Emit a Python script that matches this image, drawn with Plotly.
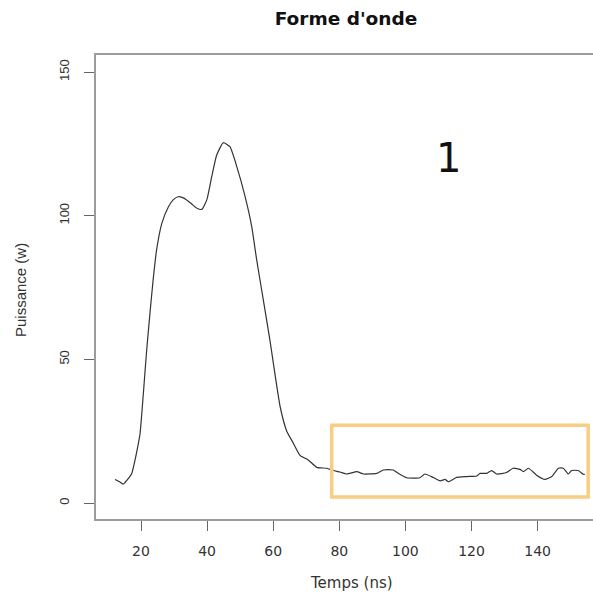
import plotly.graph_objects as go

# Waveform samples: time (ns) and power (W)
temps_ns = [12.1, 13.5, 14.6, 16.2, 17.2, 18.2, 19.0, 19.7, 20.7, 21.7, 22.7, 23.7,
            24.7, 26.3, 28.3, 29.8, 31.3, 32.6, 33.8, 35.4, 36.9, 38.4, 39.9, 41.4,
            42.9, 44.9, 46.9, 49.0, 51.5, 53.5, 55.0, 57.0, 59.0, 60.5, 62.1, 64.1,
            66.1, 68.1, 70.6, 73.2, 76.2, 78.2, 80.2, 82.2, 85.3, 87.3, 91.3, 93.3,
            96.3, 97.9, 100.4, 104.4, 105.9, 108.4, 110.5, 112.0, 113.0, 115.5,
            118.5, 121.6, 122.6, 124.6, 126.1, 127.6, 130.6, 132.6, 134.7, 135.7,
            137.2, 139.7, 142.2, 144.3, 146.3, 147.8, 149.3, 150.3, 152.3, 153.8,
            154.3]
puissance_w = [8.2, 7.4, 6.6, 8.6, 10.3, 15.0, 19.5, 24.0, 38.0, 53.0, 66.0, 78.0,
               88.0, 97.3, 103.1, 105.6, 106.6, 106.3, 105.5, 104.0, 102.6, 102.2,
               105.5, 113.6, 121.1, 125.4, 124.0, 117.0, 106.6, 96.2, 84.6, 70.7,
               56.7, 45.1, 33.5, 25.0, 20.8, 16.6, 15.0, 12.4, 12.1, 11.3, 10.8, 10.1,
               10.9, 10.1, 10.3, 11.5, 11.5, 10.3, 8.8, 8.8, 10.1, 8.9, 7.7, 8.2, 7.4,
               8.9, 9.2, 9.4, 10.3, 10.3, 11.3, 10.1, 10.6, 12.1, 11.7, 10.9, 12.1,
               9.7, 8.2, 9.2, 12.1, 12.1, 10.1, 11.3, 11.3, 10.0, 10.0]

x_ticks = [20, 40, 60, 80, 100, 120, 140]
y_ticks = [0, 50, 100, 150]

# Highlighted steady-state region
zone_x = [77.7, 155.3]
zone_y = [2.1, 27.1]

W, H = 593, 597
ML, MT, MB, MR = 96, 55, 78, 0

axis_grey = "#9c9c9c"

fig = go.Figure()
fig.add_trace(go.Scatter(
    x=temps_ns, y=puissance_w, mode="lines",
    line=dict(color="#333333", width=1.2, shape="spline", smoothing=0.5),
    hoverinfo="skip", showlegend=False,
))

fig.add_shape(
    type="rect", xref="x", yref="y",
    x0=zone_x[0], x1=zone_x[1], y0=zone_y[0], y1=zone_y[1],
    line=dict(color="#F8CD84", width=3.5), fillcolor="rgba(0,0,0,0)",
)

fig.add_annotation(
    x=112.9, y=120.1, xref="x", yref="y", text="1", showarrow=False,
    font=dict(family="DejaVu Sans", size=40, color="#111111"),
)

# Axis titles
fig.add_annotation(
    x=(351 - ML) / (W - ML - MR), y=-(583 - (H - MB)) / (H - MT - MB),
    xref="paper", yref="paper", text="Temps (ns)", showarrow=False,
    font=dict(family="DejaVu Sans", size=15, color="#333333"),
    xanchor="center", yanchor="middle",
)
fig.add_annotation(
    x=-(ML - 20) / (W - ML - MR), y=((H - MB) - 290) / (H - MT - MB),
    xref="paper", yref="paper", text="Puissance (w)", showarrow=False,
    textangle=-90,
    font=dict(family="Liberation Sans", size=15, color="#333333"),
    xanchor="center", yanchor="middle",
)

fig.update_layout(
    width=W, height=H,
    margin=dict(l=ML, r=MR, t=MT, b=MB, pad=0),
    paper_bgcolor="white", plot_bgcolor="white",
    title=dict(
        text="<b>Forme d'onde</b>", xref="container", yref="container",
        x=346 / W, y=1 - 19 / H, xanchor="center", yanchor="middle",
        font=dict(family="DejaVu Sans", size=18.5, color="#111111"),
    ),
    xaxis=dict(
        range=[6.38, 156.76], tickvals=x_ticks, ticktext=[str(v) for v in x_ticks],
        showgrid=False, zeroline=False,
        showline=True, mirror=True, linecolor=axis_grey, linewidth=1.6,
        ticks="outside", ticklen=10, tickwidth=1.2, tickcolor="#666666",
        ticklabelstandoff=8,
        tickfont=dict(family="DejaVu Sans", size=14, color="#333333"),
    ),
    yaxis=dict(
        range=[-5.57, 155.93], tickvals=y_ticks, ticktext=[str(v) for v in y_ticks],
        showgrid=False, zeroline=False,
        showline=True, mirror=False, linecolor=axis_grey, linewidth=1.6,
        ticks="outside", ticklen=10, tickwidth=1.2, tickcolor="#666666",
        tickangle=-90, ticklabelstandoff=10,
        tickfont=dict(family="Liberation Sans", size=13, color="#333333"),
    ),
)

fig.write_html("out.html")
